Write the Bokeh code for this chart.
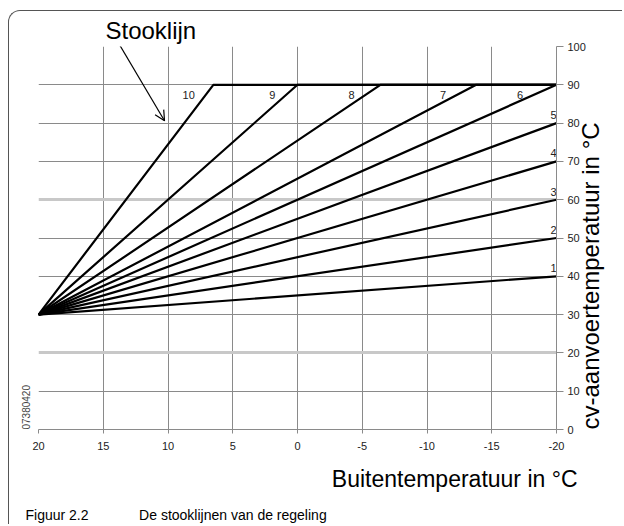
import math
from bokeh.plotting import figure
from bokeh.models import (Range1d, FixedTicker, Grid, Arrow, OpenHead, Title)
from bokeh.embed import file_html
from bokeh.resources import INLINE
from bokeh.core.properties import value

# ---------------- data ----------------
curve_ids = ["1", "2", "3", "4", "5", "6", "7", "8", "9", "10"]
start_outside = 20
start_supply = 30
end_outside = [-20, -20, -20, -20, -20, -20, -13.8, -6.4, 0.0, 6.5]
end_supply = [40, 50, 60, 70, 80, 90, 90, 90, 90, 90]
max_supply = 90
min_outside = -20
x_ticks = [20, 15, 10, 5, 0, -5, -10, -15, -20]
y_ticks = [0, 10, 20, 30, 40, 50, 60, 70, 80, 90, 100]
light_grid_ticks = [20, 60]
dark_grid_ticks = [t for t in y_ticks if t not in light_grid_ticks]

FONT = "Liberation Sans"
NB = "\u00a0"

p = figure(width=614, height=514, output_backend="svg", toolbar_location=None,
           x_range=Range1d(20, -20), y_range=Range1d(0, 100),
           y_axis_location="right",
           min_border_left=29, min_border_right=67,
           min_border_top=34, min_border_bottom=96)
p.margin = (10, 0, 0, 8)
p.styles = {"border-top": "1.5px solid #555555",
            "border-left": "1.5px solid #555555",
            "border-top-left-radius": "12px"}
p.outline_line_color = None
p.background_fill_color = "white"
p.border_fill_color = None

# axes
p.xaxis.ticker = FixedTicker(ticks=x_ticks)
p.yaxis.ticker = FixedTicker(ticks=y_ticks)
p.xaxis.major_label_overrides = {t: str(t) for t in x_ticks}
for ax in (p.xaxis, p.yaxis):
    ax.minor_tick_line_color = None
    ax.axis_line_color = "#8a8a8a"
    ax.major_tick_line_color = "#8a8a8a"
    ax.major_tick_in = 0
    ax.major_label_text_font = FONT
    ax.major_label_text_font_size = "11px"
    ax.major_label_text_color = "#222222"
p.xaxis.major_tick_out = 4
p.xaxis.major_label_standoff = 8
p.yaxis.major_tick_out = 7
p.yaxis.major_label_standoff = 4

p.xaxis.axis_label = None
yax = p.yaxis[0]
yax.axis_label = "cv-aanvoertemperatuur in °C"
yax.axis_label_text_font = FONT
yax.axis_label_text_font_size = "24px"
yax.axis_label_text_font_style = "normal"
yax.axis_label_text_color = "black"
yax.axis_label_standoff = 2
yax.axis_label_orientation = math.pi / 2
yax.axis_label_align = "start"

# grids
p.xgrid.ticker = FixedTicker(ticks=x_ticks)
p.xgrid.grid_line_color = "#8a8a8a"
p.xgrid.grid_line_width = 1
p.ygrid.ticker = FixedTicker(ticks=dark_grid_ticks)
p.ygrid.grid_line_color = "#8a8a8a"
p.ygrid.grid_line_width = 1
light = Grid(dimension=1, ticker=FixedTicker(ticks=light_grid_ticks),
             grid_line_color="#c8c8c8", grid_line_width=3)
p.add_layout(light)

# heating curves
xs = [[start_outside, xe, min_outside] for xe in end_outside]
ys = [[start_supply, ye, ye] for ye in end_supply]
p.multi_line(xs=xs, ys=ys, line_color="black", line_width=2.2)

# curve labels
end_ids, end_x, end_y = [], [], []
cap_ids, cap_x, cap_y = [], [], []
for cid, xe, ye in zip(curve_ids, end_outside, end_supply):
    if ye < max_supply:
        end_ids.append(cid); end_x.append(min_outside); end_y.append(ye)
    else:
        yl = ye - 2.6
        frac = (yl - start_supply) / (ye - start_supply)
        cap_ids.append(cid)
        cap_x.append(start_outside + (xe - start_outside) * frac)
        cap_y.append(yl)

p.text(x=end_x, y=end_y, text=end_ids, text_align="right", text_baseline="bottom",
       y_offset=-4, text_font=value(FONT), text_font_size="11px", text_color="#222222")
p.text(x=cap_x, y=cap_y, text=cap_ids, text_align="right", text_baseline="middle",
       x_offset=-11, text_font=value(FONT), text_font_size="11px", text_color="#222222")

# "Stooklijn" pointer
p.add_layout(Arrow(x_start=13.75, y_start=100.5, x_end=10.27, y_end=80.6,
                   line_width=1.2, line_color="black",
                   end=OpenHead(size=10, line_width=1.2, line_color="black")))

# titles around the chart
p.title = Title(text="Stooklijn", align="left", offset=67, standoff=6,
                text_font=FONT, text_font_size="24px", text_font_style="normal",
                text_color="black")
p.add_layout(Title(text="Buitentemperatuur in °C", align="right", offset=-21, standoff=22,
                   text_font=FONT, text_font_size="23px", text_font_style="normal",
                   text_color="black"), "below")
p.add_layout(Title(text="Figuur 2.2" + NB * 13 + "De stooklijnen van de regeling",
                   align="left", offset=-13, standoff=4,
                   text_font=FONT, text_font_size="14px", text_font_style="normal",
                   text_color="black"), "below")
p.add_layout(Title(text="07380420", align="left", offset=0, standoff=17,
                   text_font=FONT, text_font_size="10px", text_font_style="normal",
                   text_color="#444444"), "left")

open("out.html", "w").write(file_html(p, INLINE))
